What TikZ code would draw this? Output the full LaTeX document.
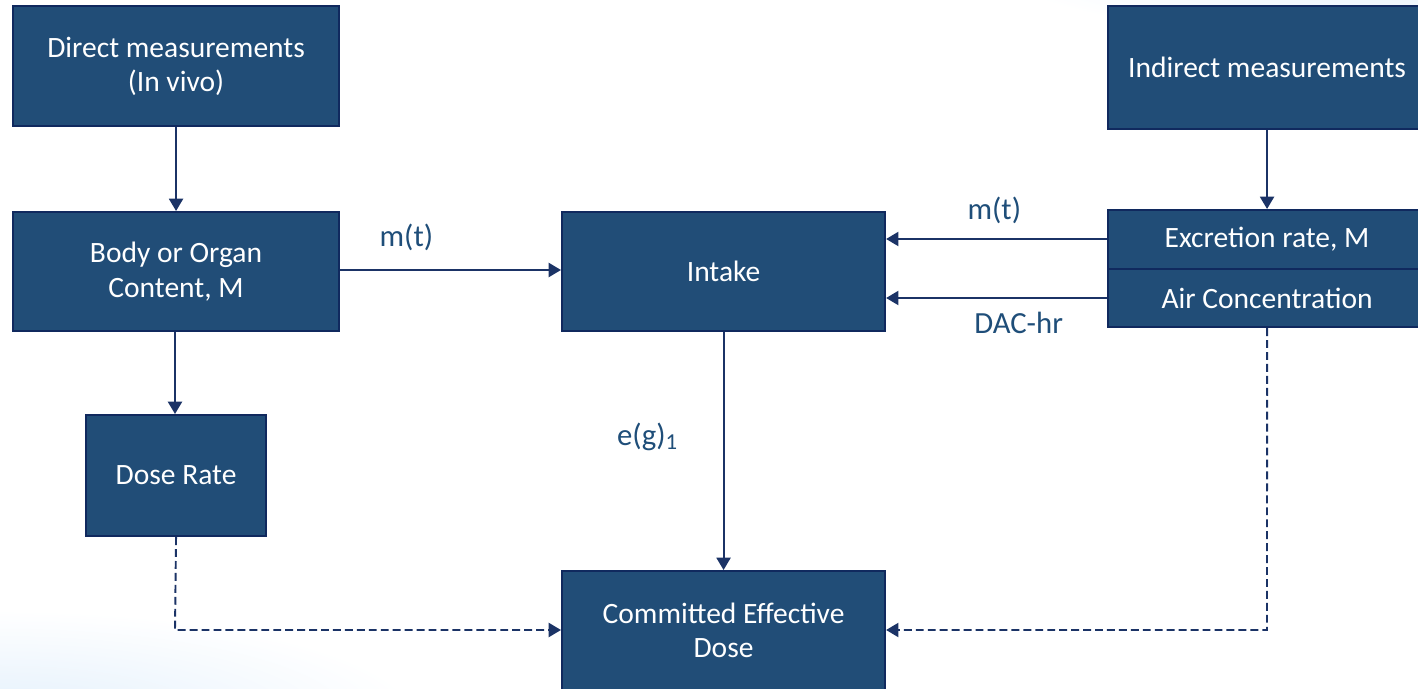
\documentclass[tikz,border=0pt]{standalone}
\usepackage{fontspec}
\setmainfont{Carlito}
\usetikzlibrary{arrows.meta}
\definecolor{boxfill}{HTML}{214D77}
\definecolor{boxline}{HTML}{10295E}
\definecolor{arrowc}{HTML}{1B3366}
\definecolor{labc}{HTML}{1F4E79}
\definecolor{haze}{HTML}{E3F0FC}
\begin{document}
\begin{tikzpicture}[x=0.02cm,y=-0.02cm,
  box/.style={draw=boxline, line width=1.2pt, fill=boxfill, text=white, font=\fontsize{16.8}{19.5}\selectfont, align=center, inner sep=0pt, anchor=north west},
  conn/.style={draw=arrowc, line width=1.1pt, -{Triangle[length=7pt,width=8pt]}},
  dconn/.style={conn, dash pattern=on 4.5pt off 2.3pt},
  lab/.style={text=labc, font=\fontsize{17.5}{20}\selectfont}]
\useasboundingbox (0,0) rectangle (1418,689);
% faint background haze
\begin{scope}
\clip (0,0) rectangle (1418,689);
\shade[inner color=haze, outer color=white] (0,720) ellipse (420 and 110);
\shade[inner color=haze, outer color=white] (1418,-30) ellipse (420 and 70);
\end{scope}
% boxes
\node[box, minimum width=326*0.02cm, minimum height=120*0.02cm] (direct) at (12,5) {Direct measurements\\(In vivo)};
\node[box, minimum width=318*0.02cm, minimum height=123*0.02cm] (indirect) at (1107,5) {\raisebox{-6pt}{Indirect measurements}};
\node[box, minimum width=326*0.02cm, minimum height=119*0.02cm] (body) at (12,211) {Body or Organ\\Content, M};
\node[box, minimum width=323*0.02cm, minimum height=119*0.02cm] (intake) at (561,211) {Intake};
\node[box, minimum width=318*0.02cm, minimum height=59*0.02cm] (excr) at (1107,209) {Excretion rate, M};
\node[box, minimum width=318*0.02cm, minimum height=58*0.02cm] (air) at (1107,268) {Air Concentration};
\node[box, minimum width=180*0.02cm, minimum height=121*0.02cm] (dose) at (85,414) {Dose Rate};
\node[box, minimum width=323*0.02cm, minimum height=119*0.02cm] (ced) at (561,570) {Committed Effective\\Dose};
% connectors
\draw[conn] (direct.south) -- (body.north);
\draw[conn] (indirect.south) -- (excr.north);
\draw[conn] (body.east |- 0,270) -- (intake.west |- 0,270) node[lab, pos=0.3, above=7pt] {m(t)};
\draw[conn] (excr.west |- 0,239) -- (intake.east |- 0,239) node[lab, pos=0.51, above=5pt] {m(t)};
\draw[conn] (air.west |- 0,298) -- (intake.east |- 0,298) node[lab, pos=0.4, below=4pt] {DAC-hr};
\draw[conn] (body.south -| 0,0) ++(175,0) -- (175,414);
\draw[conn] (intake.south) -- (ced.north) node[lab, pos=0.44, left=22pt] {e(g)\textsubscript{\fontsize{13}{14}\selectfont 1}};
\coordinate (dl) at (175,630);
\coordinate (dr) at (1267,630);
\draw[dconn] (dose.south) -- (dl) -- (ced.west |- dl);
\draw[dconn] (air.south) -- (dr) -- (ced.east |- dr);
\end{tikzpicture}
\end{document}
